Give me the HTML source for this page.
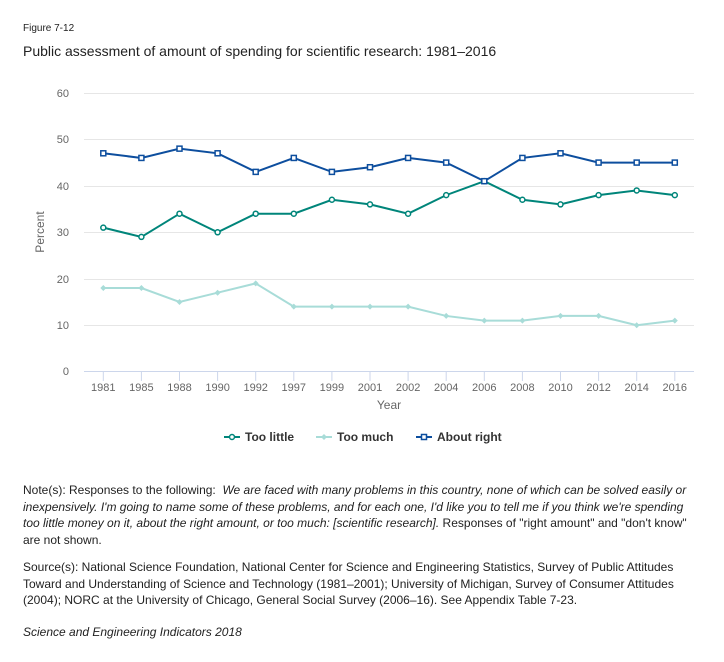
<!DOCTYPE html>
<html><head><meta charset="utf-8"><style>
body{margin:0;width:724px;height:662px;background:#fff;font-family:"Liberation Sans",sans-serif;color:#222;position:relative;overflow:hidden}
.t{position:absolute;left:23px}
</style></head><body>
<div class="t" style="top:23px;font-size:10px">Figure 7-12</div>
<div class="t" style="top:43px;font-size:14px">Public assessment of amount of spending for scientific research: 1981–2016</div>
<svg width="724" height="460" style="position:absolute;left:0;top:0" font-family="Liberation Sans, sans-serif">
<g stroke="#e6e6e6" stroke-width="1">
<line x1="84" x2="694" y1="93.5" y2="93.5"/><line x1="84" x2="694" y1="139.5" y2="139.5"/><line x1="84" x2="694" y1="186.5" y2="186.5"/><line x1="84" x2="694" y1="232.5" y2="232.5"/><line x1="84" x2="694" y1="279.5" y2="279.5"/><line x1="84" x2="694" y1="325.5" y2="325.5"/>
</g>
<line x1="84" x2="694" y1="371.5" y2="371.5" stroke="#ccd6eb"/>
<g fill="#666" font-size="11" text-anchor="end">
<text x="69" y="97">60</text><text x="69" y="143">50</text><text x="69" y="190">40</text><text x="69" y="236">30</text><text x="69" y="283">20</text><text x="69" y="329">10</text><text x="69" y="375">0</text>
</g>
<text x="44" y="232" transform="rotate(-90 44 232)" fill="#666" font-size="12" text-anchor="middle">Percent</text>
<text x="389" y="409" fill="#666" font-size="12" text-anchor="middle">Year</text>
<g id="ax"></g>
<g id="s"></g>
<g font-size="12" font-weight="bold" fill="#333">
<line x1="224" x2="240" y1="437" y2="437" stroke="#00857a" stroke-width="2"/><circle cx="232" cy="437" r="2.5" fill="#fff" stroke="#00857a" stroke-width="1.5"/><text x="245" y="441">Too little</text>
<line x1="316" x2="332" y1="437" y2="437" stroke="#a8dcd8" stroke-width="2"/><path d="M324 434l3 3-3 3-3-3z" fill="#a8dcd8"/><text x="337" y="441">Too much</text>
<line x1="416" x2="432" y1="437" y2="437" stroke="#0d4e9e" stroke-width="2"/><rect x="421.5" y="434.5" width="5" height="5" fill="#fff" stroke="#0d4e9e" stroke-width="1.5"/><text x="437" y="441">About right</text>
</g>
</svg>
<script>
var yrs=[1981,1985,1988,1990,1992,1997,1999,2001,2002,2004,2006,2008,2010,2012,2014,2016];
var ar=[47,46,48,47,43,46,43,44,46,45,41,46,47,45,45,45];
var tl=[31,29,34,30,34,34,37,36,34,38,41,37,36,38,39,38];
var tm=[18,18,15,17,19,14,14,14,14,12,11,11,12,12,10,11];
function X(i){return 103.3+i*38.1}function Y(v){return 371.7-v*4.647}
var ns="http://www.w3.org/2000/svg",ax=document.getElementById('ax'),s=document.getElementById('s');
function el(p,t,a){var e=document.createElementNS(ns,t);for(var k in a)e.setAttribute(k,a[k]);p.appendChild(e);return e}
yrs.forEach(function(y,i){el(ax,'line',{x1:X(i),x2:X(i),y1:372,y2:381,stroke:'#ccd6eb'});var t=el(ax,'text',{x:X(i),y:391,'font-size':11,fill:'#666','text-anchor':'middle'});t.textContent=y});
function line(d,c,m){el(s,'polyline',{points:d.map(function(v,i){return X(i)+','+Y(v)}).join(' '),fill:'none',stroke:c,'stroke-width':2});
d.forEach(function(v,i){var x=X(i),y=Y(v);if(m=='c')el(s,'circle',{cx:x,cy:y,r:2.5,fill:'#fff',stroke:c,'stroke-width':1.5});else if(m=='d')el(s,'path',{d:'M'+x+' '+(y-3)+'l3 3-3 3-3-3z',fill:c});else el(s,'rect',{x:x-2.5,y:y-2.5,width:5,height:5,fill:'#fff',stroke:c,'stroke-width':1.5})})}
line(tm,'#a8dcd8','d');line(tl,'#00857a','c');line(ar,'#0d4e9e','r');
</script>
<div class="t" style="top:482px;width:680px;font-size:12px;line-height:16.5px">Note(s): Responses to the following:&nbsp; <i>We are faced with many problems in this country, none of which can be solved easily or inexpensively. I'm going to name some of these problems, and for each one, I'd like you to tell me if you think we're spending too little money on it, about the right amount, or too much: [scientific research].</i> Responses of "right amount" and "don't know" are not shown.</div>
<div class="t" style="top:559px;width:690px;font-size:12px;line-height:16.5px">Source(s): National Science Foundation, National Center for Science and Engineering Statistics, Survey of Public Attitudes Toward and Understanding of Science and Technology (1981–2001); University of Michigan, Survey of Consumer Attitudes (2004); NORC at the University of Chicago, General Social Survey (2006–16). See Appendix Table 7-23.</div>
<div class="t" style="top:625px;font-size:12px;font-style:italic">Science and Engineering Indicators 2018</div>
</body></html>
